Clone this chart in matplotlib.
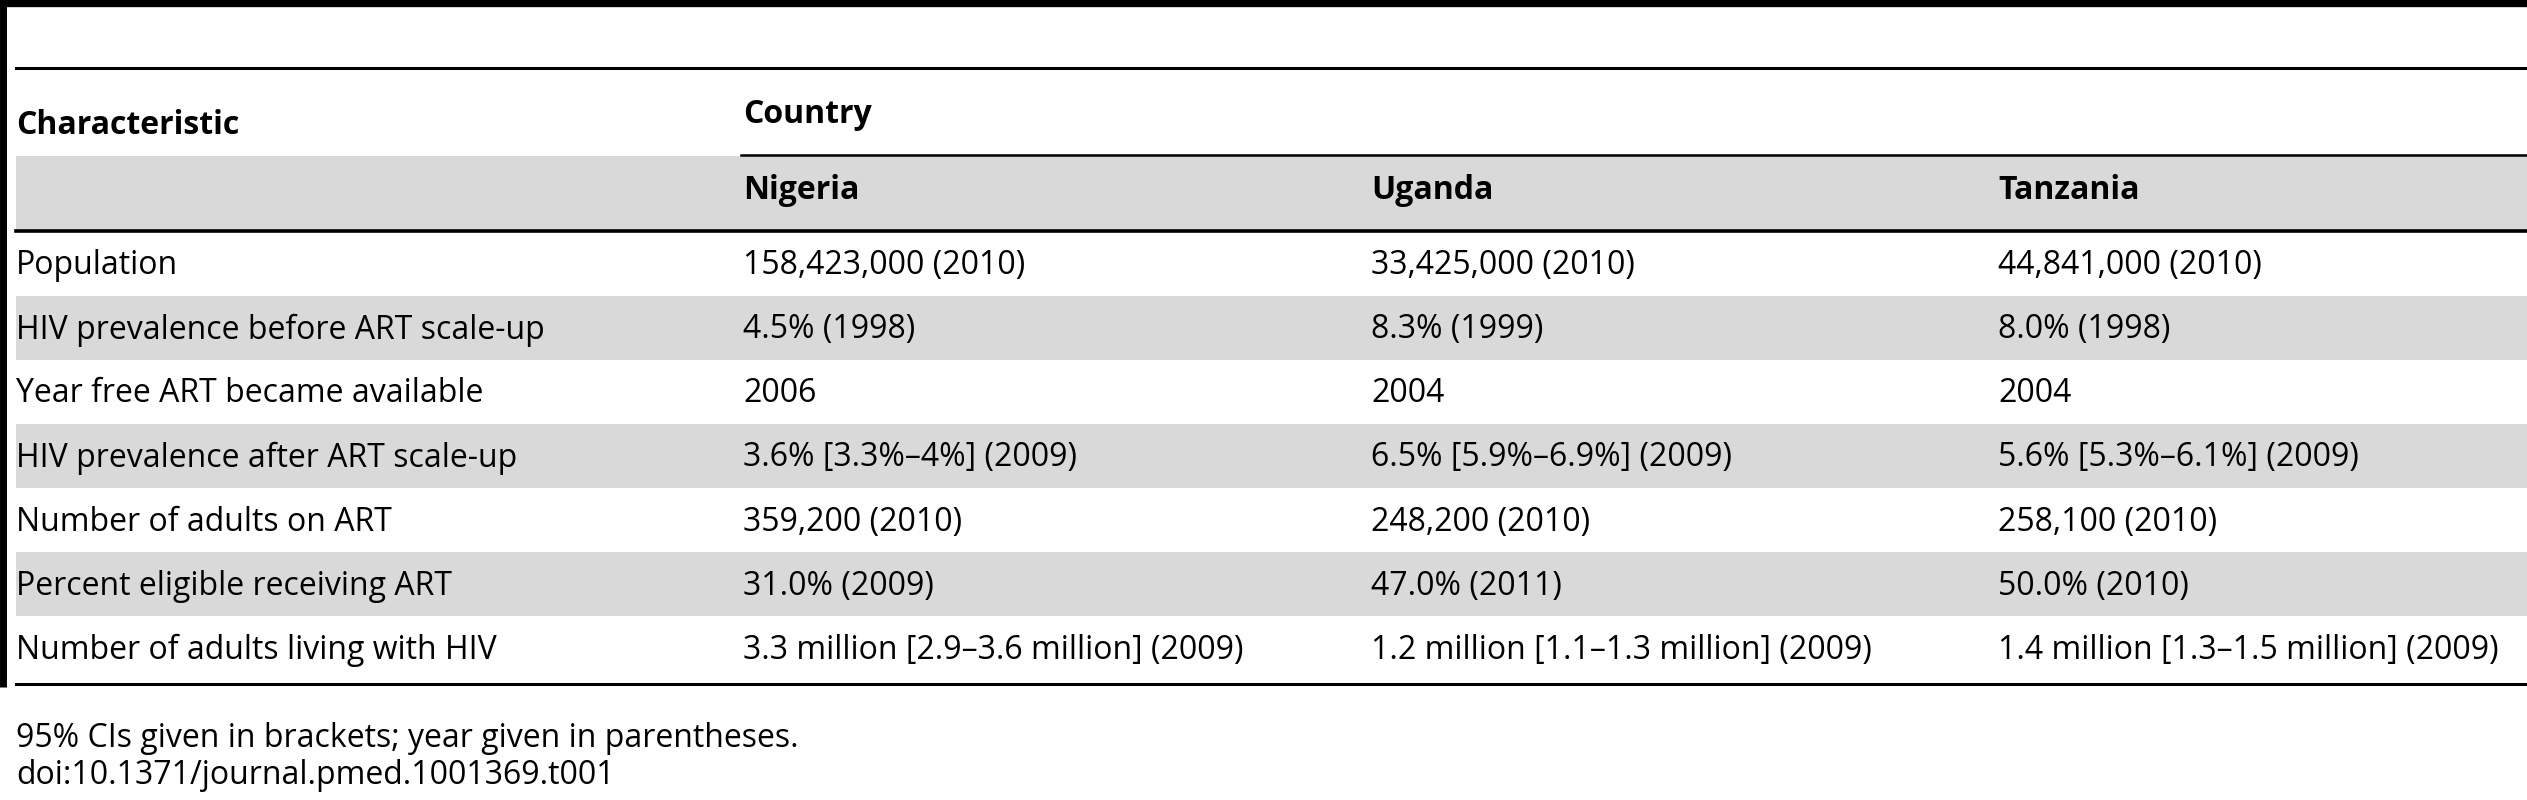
import matplotlib.pyplot as plt
from matplotlib.patches import Rectangle

plt.rcParams['font.family'] = ['Open Sans', 'DejaVu Sans']

characteristics = [
    "Population",
    "HIV prevalence before ART scale-up",
    "Year free ART became available",
    "HIV prevalence after ART scale-up",
    "Number of adults on ART",
    "Percent eligible receiving ART",
    "Number of adults living with HIV",
]
countries = ["Nigeria", "Uganda", "Tanzania"]
nigeria = ["158,423,000 (2010)", "4.5% (1998)", "2006", "3.6% [3.3%\u20134%] (2009)",
           "359,200 (2010)", "31.0% (2009)", "3.3 million [2.9\u20133.6 million] (2009)"]
uganda = ["33,425,000 (2010)", "8.3% (1999)", "2004", "6.5% [5.9%\u20136.9%] (2009)",
          "248,200 (2010)", "47.0% (2011)", "1.2 million [1.1\u20131.3 million] (2009)"]
tanzania = ["44,841,000 (2010)", "8.0% (1998)", "2004", "5.6% [5.3%\u20136.1%] (2009)",
            "258,100 (2010)", "50.0% (2010)", "1.4 million [1.3\u20131.5 million] (2009)"]
footnote = "95% CIs given in brackets; year given in parentheses."
doi = "doi:10.1371/journal.pmed.1001369.t001"

W, H = 1568, 496
fig = plt.figure(figsize=(25.27, 8), dpi=100)
ax = fig.add_axes([0, 0, 1, 1])
ax.set_xlim(0, W)
ax.set_ylim(H, 0)
ax.axis('off')

fs = 23
gray = '#d9d9d9'
colx = [10, 461, 851, 1240]

# borders
ax.plot([0, W], [2, 2], color='black', lw=6, solid_capstyle='butt')
ax.plot([2, 2], [0, 426], color='black', lw=5, solid_capstyle='butt')
ax.plot([10, W], [42, 42], color='black', lw=2.2)

# header
ax.text(colx[0], 78, "Characteristic", fontsize=fs, fontweight='bold', va='center')
ax.text(colx[1], 71, "Country", fontsize=fs, fontweight='bold', va='center')
ax.plot([460, W], [96, 96], color='black', lw=1.8)
ax.add_patch(Rectangle((10, 97), W - 10, 46, color=gray, lw=0))
for x, c in zip(colx[1:], countries):
    ax.text(x, 118, c, fontsize=fs, fontweight='bold', va='center')
ax.plot([10, W], [143, 143], color='black', lw=2.6)

row_h = 39.7
for i, label in enumerate(characteristics):
    top = 144 + i * row_h
    if i % 2 == 1:
        ax.add_patch(Rectangle((10, top), W - 10, row_h, color=gray, lw=0))
    yc = top + row_h / 2 + 1
    for x, val in zip(colx, [label, nigeria[i], uganda[i], tanzania[i]]):
        ax.text(x, yc, val, fontsize=fs, va='center')
ax.plot([10, W], [424, 424], color='black', lw=2.2)

ax.text(colx[0], 458, footnote, fontsize=fs, va='center')
ax.text(colx[0], 481, doi, fontsize=fs, va='center')

fig.savefig("out.png", dpi=100)
